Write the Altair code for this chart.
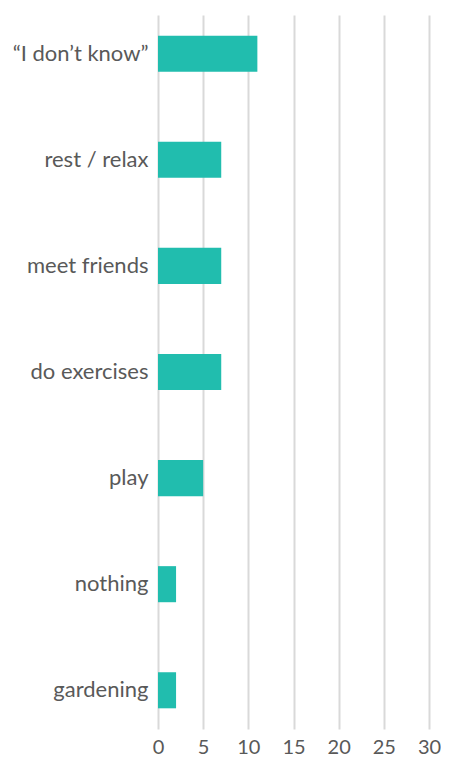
import altair as alt
import pandas as pd

categories = ["“I don’t know”", "rest / relax", "meet friends", "do exercises", "play", "nothing", "gardening"]
values = [11, 7, 7, 7, 5, 2, 2]

df = pd.DataFrame({"activity": categories, "count": values})

chart = alt.Chart(df).mark_bar(color="#21BDAE").encode(
    x=alt.X("count:Q",
            scale=alt.Scale(domain=[0, 30], nice=False),
            axis=alt.Axis(values=[0, 5, 10, 15, 20, 25, 30], title=None, grid=True,
                          gridColor="#d9d9d9", gridWidth=2, domain=False, ticks=False,
                          labelFont="Lato", labelFontSize=20, labelColor="#595959",
                          labelPadding=8, labelFlush=False)),
    y=alt.Y("activity:N", sort=categories,
            scale=alt.Scale(paddingInner=0.66, paddingOuter=0.195),
            axis=alt.Axis(title=None, domain=False, ticks=False,
                          labelFont="Lato", labelFontSize=22, labelColor="#595959",
                          labelPadding=10)),
).properties(
    width=271, height=714,
    autosize=alt.AutoSizeParams(type="none"),
    padding={"left": 150, "top": 7, "right": 12, "bottom": 32},
).configure_view(stroke=None)

chart.save("out.html", embed_options={"renderer": "svg", "actions": False})
